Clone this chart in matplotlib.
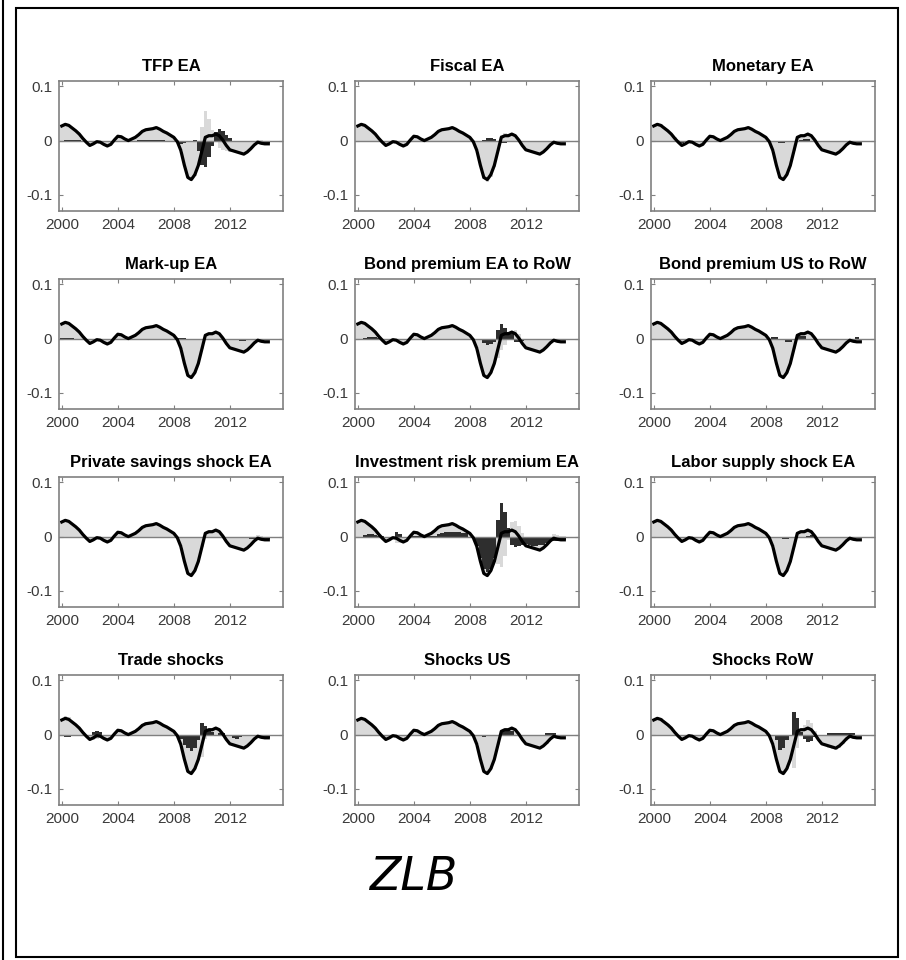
import numpy as np
import matplotlib
matplotlib.use("Agg")
import matplotlib.pyplot as plt
from matplotlib.patches import Rectangle
from matplotlib.lines import Line2D

plt.rcParams['font.family'] = ['Liberation Sans', 'DejaVu Sans']

# quarterly dates 2000Q1 .. 2014Q4
quarters = np.arange(2000, 2015, 0.25)

# historical GDP deviation (same in every panel)
gdp = [0.027, 0.030, 0.028, 0.023, 0.018, 0.012, 0.004, -0.003, -0.009, -0.006,
       -0.002, -0.003, -0.007, -0.010, -0.007, 0.001, 0.008, 0.007, 0.003, 0.000,
       0.003, 0.006, 0.011, 0.017, 0.020, 0.021, 0.022, 0.024, 0.021, 0.017,
       0.014, 0.010, 0.006, -0.002, -0.018, -0.045, -0.068, -0.072, -0.063, -0.046,
       -0.020, 0.006, 0.009, 0.009, 0.012, 0.009, 0.001, -0.009, -0.017, -0.019,
       -0.021, -0.023, -0.025, -0.021, -0.015, -0.008, -0.003, -0.005, -0.006, -0.006]

titles = ['TFP EA', 'Fiscal EA', 'Monetary EA',
          'Mark-up EA', 'Bond premium EA to RoW', 'Bond premium US to RoW',
          'Private savings shock EA', 'Investment risk premium EA', 'Labor supply shock EA',
          'Trade shocks', 'Shocks US', 'Shocks RoW']

# contribution of each shock group (dark bars), one value per quarter
tfp_ea = [0.000, 0.001, 0.002, 0.002, 0.002, 0.001, 0.000, 0.000, 0.000, 0.000,
          0.000, 0.000, 0.000, 0.000, 0.000, 0.000, 0.000, 0.000, 0.000, 0.000,
          0.000, 0.000, 0.001, 0.001, 0.002, 0.002, 0.002, 0.002, 0.001, 0.001,
          0.000, 0.000, 0.000, -0.003, -0.006, -0.004, 0.000, 0.000, 0.002, -0.020,
          -0.045, -0.048, -0.030, -0.010, 0.015, 0.022, 0.018, 0.010, 0.004, -0.002,
          -0.002, -0.002, -0.002, -0.002, -0.002, -0.002, -0.004, -0.006, -0.006, -0.005]
fiscal_ea = [0.000, 0.000, 0.000, 0.000, 0.000, 0.000, 0.000, 0.000, 0.000, 0.000,
             0.000, 0.000, 0.000, 0.000, 0.000, 0.000, 0.000, 0.000, 0.000, 0.000,
             0.000, 0.000, 0.000, 0.000, 0.000, 0.000, 0.000, 0.000, 0.000, 0.000,
             0.000, 0.000, 0.000, 0.000, 0.000, 0.000, 0.002, 0.004, 0.004, 0.003,
             -0.002, -0.004, -0.005, -0.003, -0.002, 0.000, 0.000, 0.000, 0.000, 0.000,
             0.000, 0.000, 0.000, 0.000, 0.000, 0.000, 0.000, 0.000, 0.000, 0.000]
monetary_ea = [0.000, -0.002, -0.003, -0.003, 0.000, 0.000, -0.003, -0.005, -0.004, 0.000,
               0.000, 0.000, 0.000, 0.000, 0.000, 0.000, 0.000, 0.000, 0.000, 0.000,
               0.000, 0.000, 0.000, 0.000, 0.000, 0.000, 0.000, 0.000, 0.000, 0.000,
               0.000, 0.000, 0.000, 0.000, 0.000, -0.002, -0.004, -0.005, -0.003, 0.000,
               0.000, 0.000, 0.002, 0.003, 0.003, 0.000, 0.000, 0.000, 0.000, 0.000,
               0.000, -0.002, -0.003, -0.003, -0.002, 0.000, 0.000, 0.000, 0.000, 0.000]
markup_ea = [0.002, 0.002, 0.001, 0.001, 0.000, 0.000, 0.000, 0.000, 0.000, 0.000,
             0.000, 0.000, 0.000, 0.000, 0.000, 0.000, 0.000, 0.000, 0.000, 0.000,
             0.000, 0.000, 0.000, 0.000, 0.000, 0.000, 0.000, 0.000, 0.000, 0.000,
             0.000, 0.000, 0.000, 0.002, 0.002, 0.002, 0.000, 0.000, 0.000, 0.000,
             0.000, 0.000, 0.000, 0.000, 0.000, 0.000, 0.000, 0.000, 0.000, -0.002,
             -0.003, -0.004, -0.004, -0.003, -0.002, 0.000, 0.000, 0.000, 0.000, 0.000]
bond_ea_row = [0.000, 0.000, 0.002, 0.003, 0.003, 0.003, 0.002, 0.000, 0.000, 0.000,
               0.000, 0.000, 0.000, 0.000, 0.000, 0.000, 0.000, 0.000, 0.000, 0.000,
               0.000, 0.000, 0.000, 0.000, 0.000, 0.000, 0.000, 0.000, 0.000, 0.000,
               0.000, 0.000, 0.000, 0.000, 0.000, 0.000, -0.008, -0.012, -0.010, -0.006,
               0.015, 0.027, 0.020, 0.012, 0.008, -0.007, -0.007, -0.004, 0.000, 0.000,
               -0.003, -0.003, -0.003, -0.003, -0.002, 0.000, 0.000, 0.000, 0.000, 0.000]
bond_us_row = [0.000, 0.000, 0.000, 0.000, 0.000, 0.000, 0.000, 0.000, 0.000, 0.000,
               0.000, 0.000, 0.000, 0.000, 0.000, 0.000, 0.000, 0.000, 0.000, 0.000,
               0.000, 0.000, 0.000, 0.000, 0.000, 0.000, 0.000, 0.000, 0.000, 0.000,
               0.000, 0.000, 0.000, 0.000, 0.003, 0.003, 0.000, 0.000, -0.006, -0.006,
               0.000, 0.004, 0.004, 0.004, 0.000, 0.000, 0.000, 0.000, 0.000, 0.000,
               -0.003, -0.003, -0.003, -0.003, 0.000, 0.000, 0.000, 0.000, 0.003, 0.000]
savings_ea = [0.000, 0.000, 0.000, 0.000, 0.000, 0.000, 0.000, 0.000, 0.000, 0.000,
              0.000, 0.000, 0.000, 0.000, 0.000, 0.000, 0.000, 0.000, 0.000, 0.000,
              0.000, 0.000, 0.000, 0.000, 0.000, 0.000, 0.000, 0.000, 0.000, 0.000,
              0.000, 0.000, 0.000, 0.000, 0.000, 0.000, 0.000, 0.000, 0.000, 0.000,
              0.000, 0.000, 0.000, 0.000, 0.000, 0.000, 0.000, 0.000, 0.000, 0.000,
              0.000, 0.000, 0.000, -0.002, -0.004, -0.005, -0.006, -0.006, -0.005, -0.005]
invest_risk_ea = [0.000, 0.000, 0.003, 0.004, 0.004, 0.003, 0.002, 0.002, 0.000, 0.000,
                  0.000, 0.008, 0.005, 0.000, 0.000, 0.000, 0.002, 0.002, 0.002, 0.000,
                  0.002, 0.002, 0.002, 0.004, 0.006, 0.008, 0.009, 0.009, 0.008, 0.008,
                  0.007, 0.006, 0.000, 0.000, -0.018, -0.040, -0.060, -0.066, -0.060, -0.040,
                  0.030, 0.062, 0.045, 0.015, -0.015, -0.020, -0.018, -0.015, -0.014, -0.016,
                  -0.018, -0.018, -0.015, -0.015, -0.012, -0.008, -0.008, -0.008, -0.007, -0.007]
labor_ea = [0.000, 0.000, 0.000, 0.000, 0.000, 0.000, 0.000, 0.000, 0.000, 0.000,
            0.000, 0.000, 0.000, 0.000, 0.000, 0.000, 0.000, 0.000, 0.000, 0.000,
            0.000, 0.000, 0.000, 0.000, 0.000, 0.000, 0.000, 0.000, 0.000, 0.000,
            0.000, 0.000, 0.000, 0.000, 0.000, 0.000, -0.003, -0.005, -0.004, 0.000,
            0.000, 0.000, 0.000, 0.000, 0.002, 0.003, 0.000, 0.000, 0.000, 0.000,
            0.000, 0.000, 0.000, 0.000, 0.000, 0.000, 0.000, 0.000, 0.000, 0.000]
trade = [0.000, -0.004, -0.005, 0.000, 0.000, 0.000, 0.000, 0.000, 0.000, 0.004,
         0.006, 0.004, 0.000, 0.000, 0.000, 0.000, 0.000, 0.000, 0.000, 0.000,
         0.000, 0.000, 0.000, -0.003, -0.003, 0.000, 0.000, 0.000, 0.000, 0.000,
         0.000, 0.000, 0.000, 0.000, -0.008, -0.020, -0.025, -0.030, -0.025, -0.010,
         0.022, 0.015, 0.010, 0.005, 0.000, 0.003, 0.003, 0.000, 0.000, -0.006,
         -0.008, -0.005, 0.000, 0.000, 0.000, 0.000, 0.000, -0.005, -0.006, -0.006]
shocks_us = [0.000, 0.000, 0.000, 0.000, 0.000, 0.000, 0.000, 0.000, 0.000, 0.000,
             0.000, 0.000, 0.000, 0.000, 0.000, 0.000, 0.000, 0.000, 0.000, 0.000,
             0.000, 0.000, 0.000, 0.000, 0.000, 0.000, 0.000, 0.000, 0.000, 0.000,
             0.000, 0.000, 0.000, 0.000, 0.000, -0.003, -0.004, 0.000, 0.000, 0.000,
             0.000, 0.006, 0.008, 0.008, 0.006, 0.000, 0.000, 0.000, 0.000, 0.000,
             0.000, 0.000, 0.000, 0.000, 0.002, 0.002, 0.002, 0.000, 0.000, 0.000]
shocks_row = [0.000, 0.000, -0.002, -0.002, -0.002, -0.002, 0.000, 0.000, 0.000, 0.000,
              0.000, 0.000, 0.000, 0.000, 0.000, 0.000, 0.000, 0.000, 0.000, 0.000,
              0.000, 0.000, 0.000, 0.000, 0.000, 0.000, 0.000, 0.000, 0.000, 0.000,
              0.000, 0.000, 0.000, 0.000, 0.000, -0.010, -0.028, -0.025, -0.010, 0.000,
              0.042, 0.030, 0.005, -0.008, -0.014, -0.012, -0.005, 0.000, 0.000, 0.000,
              0.003, 0.003, 0.003, 0.003, 0.003, 0.003, 0.003, 0.003, -0.003, -0.003]

contributions = [tfp_ea, fiscal_ea, monetary_ea,
                 markup_ea, bond_ea_row, bond_us_row,
                 savings_ea, invest_risk_ea, labor_ea,
                 trade, shocks_us, shocks_row]

W, H = 906, 960
fig = plt.figure(figsize=(W / 100, H / 100), dpi=100)

# border lines around the figure
fig.add_artist(Rectangle((16 / W, 1 - 957 / H), (898 - 16) / W, (957 - 8) / H,
                         transform=fig.transFigure, fill=False, lw=1.5, ec='black'))
fig.add_artist(Line2D([2.5 / W, 2.5 / W], [0, 1], transform=fig.transFigure,
                      lw=1.5, color='black'))

col_left = [59, 355, 651]
row_top = [81, 279, 477, 675]
ax_w, ax_h = 224, 130

light = '#d9d9d9'
dark = '#2e2e2e'
gdp_arr = np.array(gdp)

for k, (name, own) in enumerate(zip(titles, contributions)):
    r, c = divmod(k, 3)
    ax = fig.add_axes([col_left[c] / W, 1 - (row_top[r] + ax_h) / H, ax_w / W, ax_h / H])
    own = np.array(own)
    other = gdp_arr - own

    # stack positive and negative parts separately, own shock nearest to zero
    own_pos = np.clip(own, 0, None)
    own_neg = np.clip(own, None, 0)
    ax.bar(quarters, own_pos, width=0.25, color=dark, lw=0)
    ax.bar(quarters, own_neg, width=0.25, color=dark, lw=0)
    ax.bar(quarters, np.clip(other, 0, None), bottom=own_pos, width=0.25, color=light, lw=0)
    ax.bar(quarters, np.clip(other, None, 0), bottom=own_neg, width=0.25, color=light, lw=0)

    ax.axhline(0, color='#7f7f7f', lw=1)
    ax.plot(quarters, gdp_arr, color='black', lw=2.3, solid_joinstyle='round')

    ax.set_xlim(1999.8, 2015.8)
    ax.set_ylim(-0.13, 0.11)
    ax.set_xticks([2000, 2004, 2008, 2012])
    ax.set_yticks([-0.1, 0, 0.1])
    ax.set_yticklabels(['-0.1', '0', '0.1'])
    ax.tick_params(direction='in', length=3, width=0.8, top=True, right=True,
                   color='#808080', labelcolor='#3a3a3a', labelsize=11, pad=5)
    for sp in ax.spines.values():
        sp.set_color('#808080')
        sp.set_linewidth(1.2)
    ax.set_title(name, fontsize=12, fontweight='bold', pad=7)

fig.text(413 / W, 1 - 878 / H, 'ZLB', fontsize=33, style='italic',
         family='DejaVu Sans', ha='center', va='center')

fig.savefig('out.png', dpi=100)
